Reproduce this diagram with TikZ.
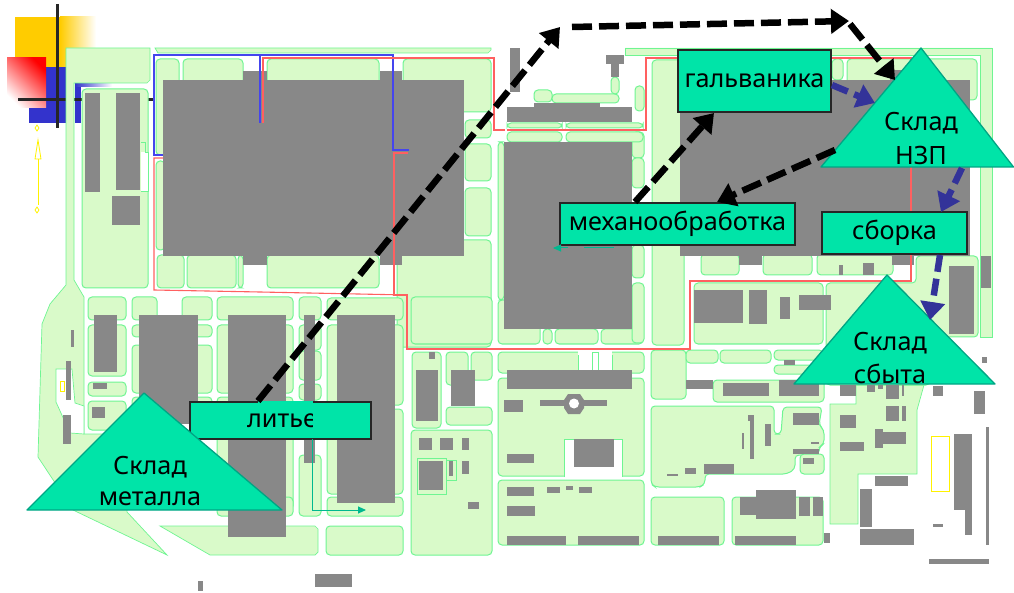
\documentclass[tikz,border=0pt]{standalone}
\usepackage{fontspec}
\setmainfont{Noto Sans}
\usetikzlibrary{arrows.meta}
\definecolor{landc}{HTML}{D9FAC9}
\definecolor{landb}{HTML}{6FF592}
\definecolor{bldc}{HTML}{888888}
\definecolor{tealc}{HTML}{00E4A8}
\definecolor{teald}{HTML}{00A584}
\definecolor{redl}{HTML}{FF6060}
\definecolor{bluel}{HTML}{4545EE}
\definecolor{navy}{HTML}{333399}
\definecolor{logoy}{HTML}{FFCC00}
\definecolor{logob}{HTML}{3333CC}
\tikzset{
  lot/.style={draw=landb,fill=landc,line width=1pt,rounded corners=4pt},
  land/.style={draw=landb,fill=landc,line width=0.7pt},
  bld/.style={fill=bldc},
  wire/.style={line width=1.1pt},
  box/.style={draw=black!85,fill=tealc,line width=1.3pt,inner sep=0pt,font=\fontsize{25.2}{29}\selectfont,text=black},
  tri/.style={draw=teald,fill=tealc,line width=1.3pt,line join=round},
  trilabel/.style={inner sep=0pt,font=\fontsize{25.2}{29}\selectfont,text=black},
  flowk/.style={draw=black,line width=6.5pt,dash pattern=on 20pt off 7pt,-{Triangle[length=18pt,width=24pt]}},
  flowb/.style={draw=navy,line width=6.5pt,dash pattern=on 17pt off 7pt,-{Triangle[length=18pt,width=24pt]}},
  thinarrow/.style={draw=teald!70!tealc,line width=1pt,-{Triangle[length=8pt,width=7pt]}},
  thinline/.style={draw=teald!70!tealc,line width=1pt},
}
\begin{document}
\begin{tikzpicture}[x=1pt,y=-1pt]
\useasboundingbox (0,0) rectangle (1014,593);
% logo
\fill[logoy] (15,17) rectangle (60,67);
\fill[left color=logoy,right color=white] (60,17) rectangle (96,67);
\fill[logob] (29,67) rectangle (66,123);
\fill[logob] (75,84) rectangle (81,123);
\fill[left color=logob,right color=white] (75,84) rectangle (112,87);
\shade[top color=red,bottom color=white,shading angle=-45] (7,58) rectangle (46,108);
\draw[black!85,line width=3pt] (57,4) -- (57,128);
\draw[black!85,line width=3pt] (18,100) -- (155,100);
% yellow north arrow
\draw[yellow,line width=0.8pt] (38,205) -- (38,159);
\draw[yellow,line width=0.8pt] (38,140) -- (35,159) -- (41,159) -- cycle;
\draw[yellow,line width=0.8pt] (37,125) -- (39,128) -- (37,131) -- (35,128) -- cycle;
\draw[yellow,line width=0.8pt] (37,207) -- (39,210) -- (37,213) -- (35,210) -- cycle;
% large land areas
\draw[land] (66,48) -- (150,48) -- (150,80) -- (147,83) -- (74,83) -- (74,280) -- (84,297) -- (84,434) -- (127,434) -- (127,512) -- (167,555) -- (73,510) -- (38,457) -- (42,324) -- (50,304) -- (66,285) -- cycle;
\draw[land,fill=white] (56,369) -- (72,369) -- (75,403) -- (84,406) -- (84,434) -- (70,433) -- (56,402) -- cycle;
\draw[land] (155,48) -- (491,48) -- (491,50) -- (488,53) -- (158,53) -- cycle;
\draw[land] (625,48) -- (992,48) -- (992,337) -- (980,337) -- (980,55) -- (625,55) -- cycle;
\draw[land] (830,404) -- (856,404) -- (856,385) -- (924,385) -- (917,410) -- (917,474) -- (858,474) -- (858,524) -- (830,524) -- cycle;
\draw[land] (160,526) -- (315,526) -- (318,529) -- (318,552) -- (315,555) -- (210,555) -- cycle;
\draw[lot] (916,256) -- (978,256) -- (978,337) -- (930,337) -- (930,385) -- (826,385) -- (826,283) -- (916,283) -- cycle;
\draw[lot] (651,406) -- (774,406) -- (774,434) -- (781,434) -- (783,407) -- (822,407) -- (819,425) -- (824,430) -- (824,444) -- (819,447) -- (819,455) -- (795,455) -- (795,469) -- (787,474) -- (705,474) -- (705,484) -- (700,487) -- (655,487) -- (651,484) -- cycle;
% parcels
\foreach \a/\b/\c/\d in {
 82/89/148/288,156/59/179/155,183/59/243/85,267/59/379/85,403/59/491/112,465/120/491/138,465/144/491/181,465/188/491/236,397/240/491/347,
 156/161/165/250,157/255/184/288,187/255/236/288,238/255/243/288,267/255/379/288,
 88/297/126/320,132/297/157/320,182/297/212/320,217/297/293/320,299/297/321/320,327/298/403/320,
 88/325/126/376,132/325/212/337,132/345/212/393,217/325/293/393,299/325/321/350,299/351/321/380,299/384/321/400,
 327/325/403/405,327/409/403/494,327/497/403/516,88/382/126/396,88/401/126/430,132/397/212/420,217/397/293/510,299/455/321/516,217/497/293/516,
 326/526/403/555,411/430/492/555,412/352/441/428,446/352/468/385,471/352/492/380,446/407/492/425,411/297/492/344,
 498/300/540/344,543/329/552/344,555/329/598/344,601/329/643/344,498/142/504/300,
 498/352/644/373,498/378/644/476,498/480/644/545,
 651/350/686/399,686/350/718/363,720/350/771/363,774/350/823/360,774/365/823/374,713/380/824/402,
 800/454/824/474,
 651/497/724/545,732/497/823/545,
 652/60/684/345,694/283/823/344,
 701/254/739/275,763/254/812/275,817/254/893/275,832/59/843/80,847/59/977/100,
 632/132/644/158,632/158/644/188,632/245/644/278,632/283/644/343,
 507/123/562/128,566/123/643/128,507/132/562/142,566/132/643/142,
 534/90/552/102,552/94/619/103,611/77/619/94,635/86/644/111
}{\draw[lot] (\a,\b) rectangle (\c,\d);}
% white cuts in parcels
\fill[white] (141,152) rectangle (148,191);
\draw[landb,line width=0.7pt] (141,142) -- (145,142) -- (145,152) -- (148,152) -- (148,191) -- (141,191);
\draw[land,fill=white] (564,477) -- (564,439) -- (622,439) -- (622,477);
\fill[white] (578,350) rectangle (612,370);
\draw[landb,line width=0.7pt] (578,370) -- (578,355) (612,370) -- (612,355) (592,370) -- (592,352) -- (598,352) -- (598,370);
% buildings
\foreach \a/\b/\c/\d in {
 163/80/464/256,243/71/267/80,380/71/402/80,243/256/267/265,380/256/402/265,
 85/93/100/192,116/93/140/190,112/196/140/225,
 504/142/632/329,507/107/632/122,534/103/600/107,606/55/624/64,611/64/619/77,510/48/520/92,
 680/80/970/256,890/70/915/80,739/256/762/265,892/256/914/265,839/265/843/275,863/263/874/275,949/266/974/334,981/256/991/288,
 694/290/743/323,749/290/767/324,780/297/790/319,799/295/831/310,
 94/315/117/372,139/315/198/424,228/315/286/537,304/315/315/463,337/315/395/503,
 71/330/74/347,66/361/71/400,63/415/71/444,93/383/107/389,92/407/105/418,
 416/370/438/421,451/370/475/406,429/352/435/359,419/438/432/450,440/438/453/450,462/438/469/450,449/460/453/476,462/461/469/474,468/502/479/509,
 686/380/713/389,723/383/769/396,779/380/819/396,784/360/795/365,507/370/632/389,504/400/523/412,540/400/607/406,574/439/614/467,507/454/534/463,
 507/487/534/496,547/487/560/493,566/486/573/490,579/487/592/493,507/506/535/516,507/536/566/545,578/536/639/545,658/536/719/545,735/536/796/545,
 824/533/830/543,860/529/914/545,860/489/872/527,875/476/908/486,740/497/756/515,756/490/796/519,799/497/810/516,813/497/823/516,
 748/415/754/421,750/421/754/459,742/433/744/449,765/424/771/446,704/464/734/474,685/468/696/474,667/474/678/476,793/413/819/425,811/442/819/444,793/449/819/454,803/458/814/464,
 840/415/856/428,840/442/864/451,840/385/856/396,867/385/875/392,878/385/883/389,886/385/899/399,902/385/904/396,886/406/899/421,902/406/906/421,875/429/883/448,883/432/906/444,
 933/386/943/396,982/357/987/363,974/391/985/414,986/427/989/545,954/434/972/510,965/510/972/535,933/524/943/527,929/559/989/564,
 198/581/203/591,315/574/352/587
}{\fill[bld] (\a,\b) rectangle (\c,\d);}
\draw[landb,line width=0.8pt] (417,458) rectangle (446,494);
\fill[bld] (419,461) rectangle (443,490);
\draw[landb,line width=0.6pt] (446,460) -- (456,460) -- (456,480) -- (446,480);
\fill[bld] (568,394) -- (580,394) -- (584,400) -- (584,408) -- (580,414) -- (568,414) -- (564,408) -- (564,400) -- cycle;
\fill[white] (574,403.5) circle (5);
\draw[yellow,line width=0.8pt] (931,436) rectangle (949,491);
\draw[yellow,line width=0.8pt] (60,381) rectangle (64,391);
% service lines
\draw[bluel,wire] (163,155) -- (154,155) -- (154,55) -- (393,55) -- (393,150) -- (409,150);
\draw[bluel,wire] (260,55) -- (260,123);
\draw[redl,wire] (263,123) -- (263,58) -- (494,58) -- (494,130) -- (505,130);
\draw[redl,wire] (408,153) -- (394,153) -- (394,295) -- (407,295) -- (407,349) -- (690,349) -- (690,281) -- (911,281) -- (911,58) -- (646,58) -- (646,130) -- (507,130);
\draw[redl,wire] (163,158) -- (154,158) -- (154,290) -- (260,292) -- (407,295);
% named boxes
\node[box,minimum width=153pt,minimum height=62pt] (galv) at (754.5,81) {гальваника};
\node[box,minimum width=235pt,minimum height=42pt] (mech) at (677.5,224) {механообработка};
\node[box,minimum width=145pt,minimum height=42pt] (sbor) at (894.5,233) {сборка};
\node[box,minimum width=181pt,minimum height=37pt] (lit) at (280.5,420.5) {\hspace*{3pt}литье};
\draw[tealc,line width=1.6pt] (258,402) -- (313,402);
\fill[tealc] (313,403) rectangle (318,438);
% triangles
\draw[tri] (921,48) -- (821,167) -- (1013.5,167) -- cycle;
\draw[tri] (887,275) -- (794,384) -- (995,384) -- cycle;
\draw[tri] (144,393) -- (27,510) -- (282,510) -- cycle;
\node[trilabel] (nzp1) at (921,123) {Склад};
\node[trilabel] (nzp2) at (921,155) {НЗП};
\node[trilabel] (sby1) at (890,343) {Склад};
\node[trilabel] (sby2) at (890,374) {сбыта};
\node[trilabel] (met1) at (150,467) {Склад};
\node[trilabel] (met2) at (150,499) {металла};
% connector points
\coordinate (p1) at (258,401);
\coordinate (p2) at (560,27);
\coordinate (p3) at (572,27);
\coordinate (p4) at (849,21);
\coordinate (p5) at (850,24);
\coordinate (p6) at (895,80);
\coordinate (m1) at (635,202);
\coordinate (m2) at (714,113);
\coordinate (n1) at (835,150);
\coordinate (m3) at (717,202);
\coordinate (g1) at (832,85);
\coordinate (n2) at (875,103);
\coordinate (n3) at (962,168);
\coordinate (s1) at (941,212);
\coordinate (s2) at (940,255);
\coordinate (b1) at (930,320);
\coordinate (t1) at (312,439);
\coordinate (t2) at (312,510);
\coordinate (t3) at (366,510);
\coordinate (c1) at (614,248);
\coordinate (c2) at (584,248);
\coordinate (c3) at (568,248);
\coordinate (c4) at (553,248);
% connectors
\draw[flowk] (p1) -- (p2);
\draw[flowk] (p3) -- (p4);
\draw[flowk] (p5) -- (p6);
\draw[flowk] (m1) -- (m2);
\draw[flowk] (n1) -- (m3);
\draw[flowb] (g1) -- (n2);
\draw[flowb] (n3) -- (s1);
\draw[flowb] (s2) -- (b1);
\draw[thinarrow] (t1) -- (t2) -- (t3);
\draw[thinline] (c1) -- (c2);
\draw[thinarrow] (c3) -- (c4);
\end{tikzpicture}
\end{document}
